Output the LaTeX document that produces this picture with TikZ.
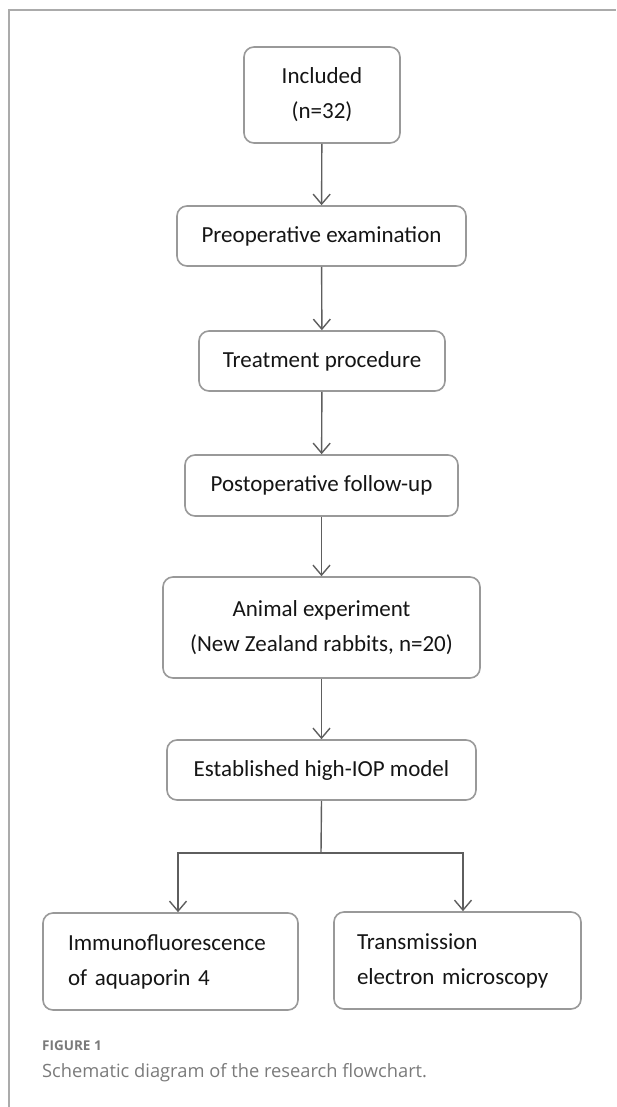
\documentclass[tikz,border=0pt]{standalone}
\usepackage{fontspec}
\setmainfont{Carlito}
\newfontfamily\captionfont{Open Sans}
\usetikzlibrary{arrows.meta}

\definecolor{boxgray}{HTML}{999999}
\definecolor{linegray}{HTML}{5E5E5E}
\definecolor{framegray}{HTML}{ABABAB}
\definecolor{textgray}{HTML}{151515}
\definecolor{capgray}{HTML}{7A7A7A}

\tikzset{
	flowbox/.style={draw=boxgray,line width=1.6pt,rounded corners=10pt,fill=white,inner sep=0pt,align=center,text=textgray,font=\fontsize{23}{35}\selectfont},
	flowarrow/.style={draw=linegray,line width=1.4pt,-{Straight Barb[length=10pt,width=17pt,line width=1.4pt]}},
	captext/.style={anchor=base west,inner sep=0pt,text=capgray}
}

\begin{document}
\begin{tikzpicture}[x=1pt,y=-1pt]
		\useasboundingbox (0,0) rectangle (616,1107);
		
		% draw frame
		\draw[framegray,line width=1.5pt] (9,1107) -- (9,10) -- (616,10);
		
		% draw boxes of the main column
		\node[flowbox,minimum width=156pt,minimum height=96pt] (incl) at (322,95) {Included\\(n=32)};
		\node[flowbox,minimum width=289pt,minimum height=60pt] (preop) at (321.5,236) {Preoperative examination};
		\node[flowbox,minimum width=246pt,minimum height=60pt] (treat) at (322,361) {Treatment procedure};
		\node[flowbox,minimum width=273pt,minimum height=61pt] (postop) at (321.5,485.5) {Postoperative follow-up};
		\node[flowbox,minimum width=317pt,minimum height=101pt] (animal) at (321.5,627.5) {Animal experiment\\(New Zealand rabbits, n=20)};
		\node[flowbox,minimum width=309pt,minimum height=60pt] (model) at (321.5,770) {Established high-IOP model};
		
		% draw the two boxes at the bottom
		\node[flowbox,align=left,inner xsep=25pt,text width=205pt,minimum height=97pt] (immuno) at (170.5,961.5) {Immunofluorescence\\of aquaporin 4};
		\node[flowbox,align=left,inner xsep=23pt,text width=201pt,minimum height=97pt] (tem) at (457.5,960.5) {Transmission\\electron microscopy};
		
		% draw arrows between the boxes
		\draw[flowarrow] (incl) -- (preop);
		\draw[flowarrow] (preop) -- (treat);
		\draw[flowarrow] (treat) -- (postop);
		\draw[flowarrow] (postop) -- (animal);
		\draw[flowarrow] (animal) -- (model);
		
		% draw the branch
		\coordinate (split) at (321,853);
		\draw[linegray,line width=1.4pt] (model.south) -- (split);
		\draw[flowarrow] (split) -| ([xshift=7.5pt]immuno.north);
		\draw[flowarrow] (split) -| ([xshift=5.5pt]tem.north);
		
		% draw caption
		\node[captext,font=\captionfont\bfseries\fontsize{13.5}{16}\selectfont] (figlabel) at (42,1050) {FIGURE 1};
		\node[captext,font=\captionfont\fontsize{18.3}{20}\selectfont] (figcaption) at (42,1077) {Schematic diagram of the research flowchart.};
\end{tikzpicture}
\end{document}
